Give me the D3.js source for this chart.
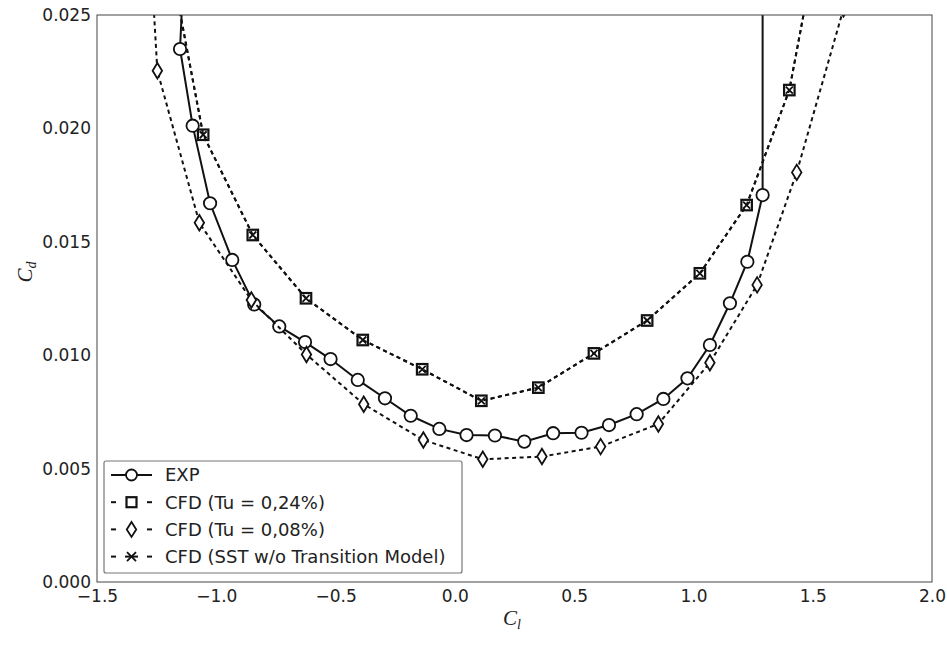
<!DOCTYPE html>
<html>
<head>
<meta charset="utf-8">
<script src="https://cdn.jsdelivr.net/npm/d3@7/dist/d3.min.js"></script>
<style>
  html, body { margin: 0; padding: 0; background: #fff; }
  svg { display: block; }
  .tick text { font-family: "DejaVu Sans", sans-serif; font-size: 17px; fill: #222; }
  .legend text { font-family: "DejaVu Sans", sans-serif; font-size: 18px; fill: #222; }
  .lbl { font-family: "Liberation Serif", "DejaVu Serif", serif; font-style: italic; font-size: 21px; fill: #222; }
</style>
</head>
<body>
<svg id="chart" width="947" height="646"></svg>
<script>
// Drag polar: drag coefficient Cd against lift coefficient Cl
const xTicks = [-1.5, -1.0, -0.5, 0.0, 0.5, 1.0, 1.5, 2.0];
const yTicks = [0.000, 0.005, 0.010, 0.015, 0.020, 0.025];

// Experiment (first and last points lie beyond the Cd axis limit)
const expCl = [-1.123, -1.152, -1.099, -1.026, -0.933, -0.841, -0.736, -0.628, -0.521, -0.407, -0.293,
               -0.185, -0.065, 0.049, 0.168, 0.291, 0.412, 0.531, 0.646, 0.762, 0.874, 0.975,
               1.069, 1.153, 1.226, 1.290, 1.290];
const expCd = [0.0300, 0.02350, 0.02012, 0.01670, 0.01420, 0.01224, 0.01127, 0.01058, 0.00983, 0.00891, 0.00810,
               0.00733, 0.00675, 0.00648, 0.00646, 0.00619, 0.00656, 0.00658, 0.00692, 0.00740, 0.00807, 0.00898,
               0.01045, 0.01229, 0.01412, 0.01706, 0.0300];

// CFD, Tu = 0.24 %
const tu24Cl = [-1.240, -1.055, -0.847, -0.624, -0.386, -0.137, 0.111, 0.350, 0.583, 0.806, 1.027, 1.223, 1.402, 1.551];
const tu24Cd = [0.0300, 0.01972, 0.01530, 0.01251, 0.01067, 0.00938, 0.00799, 0.00857, 0.01008, 0.01153, 0.01361, 0.01662, 0.02169, 0.0300];

// CFD, Tu = 0.08 %
const tu08Cl = [-1.288, -1.247, -1.071, -0.853, -0.622, -0.382, -0.132, 0.117, 0.365, 0.611, 0.853, 1.069, 1.267, 1.433, 1.629];
const tu08Cd = [0.0300, 0.02254, 0.01584, 0.01243, 0.01003, 0.00784, 0.00626, 0.00541, 0.00553, 0.00597, 0.00697, 0.00967, 0.01310, 0.01806, 0.02527];

// CFD, SST without transition model
const sstCl = [-1.240, -1.055, -0.847, -0.624, -0.386, -0.137, 0.111, 0.350, 0.583, 0.806, 1.027, 1.223, 1.402, 1.551];
const sstCd = [0.0300, 0.01972, 0.01530, 0.01251, 0.01067, 0.00938, 0.00799, 0.00857, 0.01008, 0.01153, 0.01361, 0.01662, 0.02169, 0.0300];

const legendLabels = ["EXP", "CFD (Tu = 0,24%)", "CFD (Tu = 0,08%)", "CFD (SST w/o Transition Model)"];

const svg = d3.select("#chart");
const margin = { left: 97, right: 15, top: 15, bottom: 64 };
const W = 947, H = 646;
const x = d3.scaleLinear().domain([-1.5, 2.0]).range([margin.left, W - margin.right]);
const y = d3.scaleLinear().domain([0, 0.025]).range([H - margin.bottom, margin.top]);

svg.append("defs").append("clipPath").attr("id", "plotClip")
  .append("rect")
  .attr("x", x(-1.5)).attr("y", y(0.025))
  .attr("width", x(2.0) - x(-1.5)).attr("height", y(0) - y(0.025));

// axes
const xAxis = svg.append("g").attr("transform", `translate(0,${y(0)})`)
  .call(d3.axisBottom(x).tickValues(xTicks).tickFormat(d3.format(".1f")).tickSize(0).tickPadding(8));
const yAxis = svg.append("g").attr("transform", `translate(${x(-1.5)},0)`)
  .call(d3.axisLeft(y).tickValues(yTicks).tickFormat(d3.format(".3f")).tickSize(0).tickPadding(6));
xAxis.select(".domain").remove();
yAxis.select(".domain").remove();

// marker shapes
function circleM(g, r) {
  g.append("circle").attr("r", r).attr("fill", "#fff").attr("stroke", "#111").attr("stroke-width", 1.8);
}
function squareM(g, s) {
  g.append("rect").attr("x", -s / 2).attr("y", -s / 2).attr("width", s).attr("height", s)
    .attr("fill", "#fff").attr("stroke", "#111").attr("stroke-width", 2.2);
}
function diamondM(g, w, h) {
  g.append("path").attr("d", `M0,${-h / 2}L${w / 2},0L0,${h / 2}L${-w / 2},0Z`)
    .attr("fill", "#fff").attr("stroke", "#111").attr("stroke-width", 1.8);
}
function crossM(g, s) {
  g.append("path").attr("d", `M${-s / 2},${-s / 2}L${s / 2},${s / 2}M${-s / 2},${s / 2}L${s / 2},${-s / 2}`)
    .attr("fill", "none").attr("stroke", "#111").attr("stroke-width", 1.8);
}

const plot = svg.append("g").attr("clip-path", "url(#plotClip)");

function series(cl, cd, dash, marker) {
  const pts = cl.map((c, i) => [c, cd[i]]);
  const line = d3.line().x(d => x(d[0])).y(d => y(d[1]));
  const g = plot.append("g");
  g.append("path").datum(pts).attr("d", line)
    .attr("fill", "none").attr("stroke", "#111").attr("stroke-width", 2)
    .attr("stroke-dasharray", dash);
  g.selectAll("g.m").data(pts).join("g").attr("class", "m")
    .attr("transform", d => `translate(${x(d[0])},${y(d[1])})`)
    .each(function () { marker(d3.select(this)); });
}

series(expCl, expCd, null, g => circleM(g, 6.2));
series(tu24Cl, tu24Cd, "4,3.5", g => squareM(g, 10.5));
series(tu08Cl, tu08Cd, "4,3.5", g => diamondM(g, 9.5, 15.5));
series(sstCl, sstCd, "4,3.5", g => crossM(g, 7));

// frame
svg.append("rect")
  .attr("x", x(-1.5)).attr("y", y(0.025))
  .attr("width", x(2.0) - x(-1.5)).attr("height", y(0) - y(0.025))
  .attr("fill", "none").attr("stroke", "#444").attr("stroke-width", 1);

// legend
const lg = svg.append("g").attr("class", "legend");
lg.append("rect").attr("x", 104).attr("y", 461).attr("width", 358).attr("height", 112)
  .attr("rx", 2).attr("fill", "#fff").attr("stroke", "#777").attr("stroke-width", 1.2);
const legendMarkers = [g => circleM(g, 5.5), g => squareM(g, 10), g => diamondM(g, 9.5, 15), g => crossM(g, 9)];
legendLabels.forEach((t, i) => {
  const cy = 475 + i * 27.2;
  const row = lg.append("g");
  if (i === 0) {
    row.append("line").attr("x1", 111).attr("x2", 152).attr("y1", cy).attr("y2", cy)
      .attr("stroke", "#111").attr("stroke-width", 2);
  } else {
    const segs = i === 3 ? [[111, 116], [125, 138], [147, 152]] : [[111, 116], [147, 152]];
    segs.forEach(([a, b]) => {
      row.append("line").attr("x1", a).attr("x2", b).attr("y1", cy).attr("y2", cy)
        .attr("stroke", "#111").attr("stroke-width", 2);
    });
  }
  const m = row.append("g").attr("transform", `translate(131.5,${cy})`);
  legendMarkers[i](m);
  row.append("text").attr("x", 165).attr("y", cy).attr("dy", "0.36em").text(t);
});

// axis labels
const xl = svg.append("text").attr("class", "lbl").attr("x", 512).attr("y", 625).attr("text-anchor", "middle");
xl.append("tspan").text("C");
xl.append("tspan").attr("font-size", "14px").attr("dy", 4).text("l");

const yl = svg.append("text").attr("class", "lbl")
  .attr("transform", "translate(32,272) rotate(-90)").attr("text-anchor", "middle");
yl.append("tspan").text("C");
yl.append("tspan").attr("font-size", "14px").attr("dy", 4).text("d");
</script>
</body>
</html>
